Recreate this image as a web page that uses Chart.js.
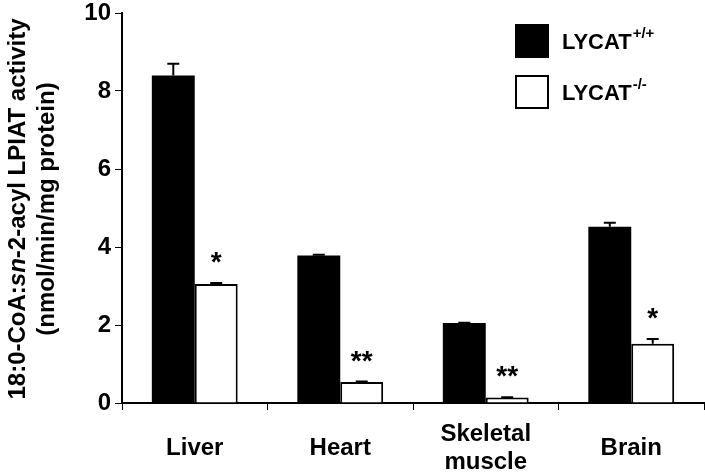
<!DOCTYPE html>
<html>
<head>
<meta charset="utf-8">
<script src="https://cdn.jsdelivr.net/npm/chart.js@4.4.0/dist/chart.umd.min.js"></script>
<style>
  html, body { margin: 0; padding: 0; background: #fff; }
  #wrap { width: 705px; height: 476px; }
</style>
</head>
<body>
<div id="wrap"><canvas id="barChart"></canvas></div>
<script>
// data
const tissues = ['Liver', 'Heart', ['Skeletal', 'muscle'], 'Brain'];
const wildType = [8.40, 3.78, 2.05, 4.52];
const wildTypeErr = [0.30, 0.02, 0.01, 0.10];
const knockOut = [3.05, 0.54, 0.14, 1.52];
const knockOutErr = [0.03, 0.01, 0.01, 0.12];
const knockOutStars = ['*', '**', '**', '*'];
const seriesNames = ['LYCAT', 'LYCAT'];
const seriesSups = ['+/+', '-/-'];
const yTicks = [0, 2, 4, 6, 8, 10];

const FONT = '"Liberation Sans", Arial, Helvetica, sans-serif';

// whiskers (up only), stars, x labels, y title and legend
const extras = {
    id: 'extras',
    afterDatasetsDraw(chart) {
        const ctx = chart.ctx;
        const y = chart.scales.y;
        const x = chart.scales.x;
        const errs = [wildTypeErr, knockOutErr];

        ctx.save();
        ctx.strokeStyle = '#000';
        ctx.lineWidth = 2;
        chart.data.datasets.forEach((ds, d) => {
            const meta = chart.getDatasetMeta(d);
            meta.data.forEach((bar, i) => {
                const top = y.getPixelForValue(ds.data[i] + errs[d][i]);
                ctx.beginPath();
                ctx.moveTo(bar.x, bar.y);
                ctx.lineTo(bar.x, top);
                ctx.moveTo(bar.x - 6, top);
                ctx.lineTo(bar.x + 6, top);
                ctx.stroke();
                if (d === 1) {
                    ctx.fillStyle = '#000';
                    ctx.font = 'bold 28px ' + FONT;
                    ctx.textAlign = 'center';
                    ctx.textBaseline = 'alphabetic';
                    ctx.fillText(knockOutStars[i], bar.x, top - 12);
                }
            });
        });

        // category labels, centred vertically under each group
        ctx.fillStyle = '#000';
        ctx.font = 'bold 24px ' + FONT;
        ctx.textAlign = 'center';
        ctx.textBaseline = 'middle';
        tissues.forEach((t, i) => {
            const cx = x.getPixelForValue(i);
            const lines = Array.isArray(t) ? t : [t];
            const lh = 28;
            const y0 = 448 - (lines.length - 1) * lh / 2;
            lines.forEach((ln, k) => ctx.fillText(ln, cx, y0 + k * lh));
        });

        // y axis title, two rotated lines, "sn" in italics
        ctx.save();
        ctx.translate(18, 209);
        ctx.rotate(-Math.PI / 2);
        ctx.textBaseline = 'middle';
        const parts = [['18:0-CoA:', 'bold'], ['sn', 'italic bold'], ['-2-acyl LPIAT activity', 'bold']];
        let total = 0;
        parts.forEach(p => { ctx.font = p[1] + ' 24px ' + FONT; total += ctx.measureText(p[0]).width; });
        let px = -total / 2;
        ctx.textAlign = 'left';
        parts.forEach(p => {
            ctx.font = p[1] + ' 24px ' + FONT;
            ctx.fillText(p[0], px, 0);
            px += ctx.measureText(p[0]).width;
        });
        ctx.textAlign = 'center';
        ctx.font = 'bold 24px ' + FONT;
        ctx.fillText('(nmol/min/mg protein)', 0, 29);
        ctx.restore();

        // legend
        const boxes = [{y: 24, fill: '#000'}, {y: 75, fill: '#fff'}];
        boxes.forEach((b, i) => {
            ctx.fillStyle = b.fill;
            ctx.fillRect(515, b.y, 34, 34);
            ctx.strokeStyle = '#000';
            ctx.lineWidth = 2;
            ctx.strokeRect(516, b.y + 1, 32, 32);
            ctx.fillStyle = '#000';
            ctx.textAlign = 'left';
            ctx.textBaseline = 'middle';
            ctx.font = 'bold 22px ' + FONT;
            ctx.fillText(seriesNames[i], 562, b.y + 19);
            const w = ctx.measureText(seriesNames[i]).width;
            ctx.font = 'bold 15px ' + FONT;
            ctx.fillText(seriesSups[i], 562 + w + 1, b.y + 10);
        });
        ctx.restore();
    }
};

let ctx = document.getElementById('barChart').getContext('2d');
let chart = new Chart(ctx, {
    type: 'bar',
    data: {
        labels: tissues,
        datasets: [{
            label: 'LYCAT+/+',
            data: wildType,
            backgroundColor: '#000',
            borderColor: '#000',
            borderWidth: 0
        }, {
            label: 'LYCAT-/-',
            data: knockOut,
            backgroundColor: '#fff',
            borderColor: '#000',
            borderWidth: 2,
            borderSkipped: 'bottom'
        }]
    },
    options: {
        responsive: true,
        maintainAspectRatio: false,
        animation: false,
        devicePixelRatio: 1,
        layout: { padding: { top: 0, right: 1, left: 0, bottom: 0 } },
        datasets: { bar: { categoryPercentage: 0.59, barPercentage: 1 } },
        plugins: { legend: { display: false }, tooltip: { enabled: false } },
        scales: {
            x: {
                grid: { display: true, drawOnChartArea: false, drawTicks: true, tickLength: 7, color: '#000', offset: true },
                border: { display: true, color: '#000', width: 2 },
                ticks: { display: false },
                afterFit(s) { s.height = 73; }
            },
            y: {
                min: 0,
                max: 10,
                afterBuildTicks(s) { s.ticks = yTicks.map(v => ({ value: v })); },
                grid: { display: true, drawOnChartArea: false, drawTicks: true, tickLength: 7, color: '#000' },
                border: { display: true, color: '#000', width: 2 },
                ticks: {
                    color: '#000',
                    padding: 4,
                    font: { family: FONT, size: 24, weight: 'bold', lineHeight: 0.75 }
                },
                afterFit(s) { s.width = 122; }
            }
        }
    },
    plugins: [extras]
});
</script>
</body>
</html>
